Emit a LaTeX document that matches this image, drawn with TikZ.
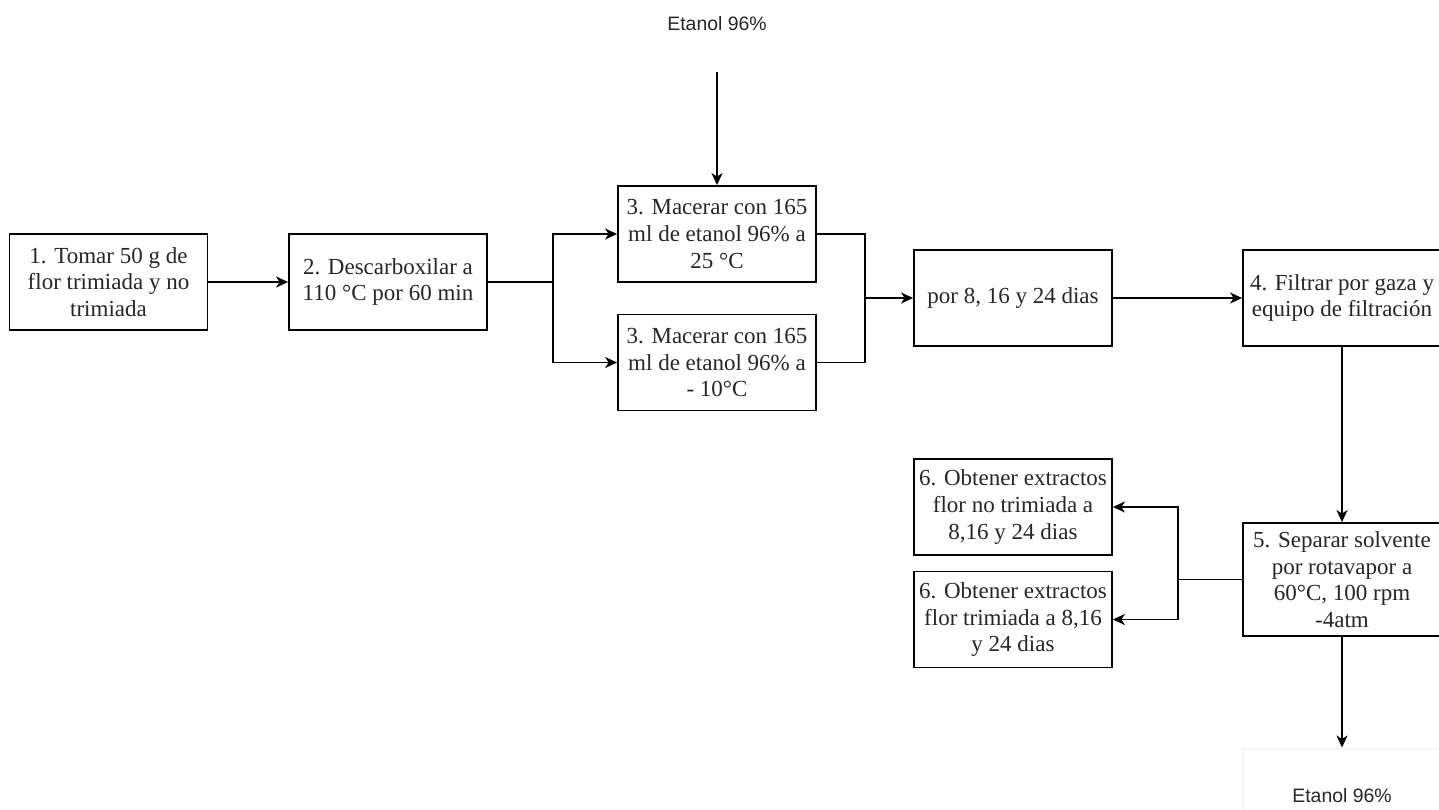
\documentclass[tikz,border=0pt]{standalone}
\usepackage{fontspec}
\setmainfont{Liberation Serif}
\newfontfamily\arialfont{Liberation Sans}
\usetikzlibrary{arrows.meta}
\begin{document}
\begin{tikzpicture}[x=1pt,y=-1pt,
  box/.style={draw, line width=1.8pt, minimum width=198pt, minimum height=96pt, inner sep=0pt,
    align=center, text=black!85, font=\fontsize{23}{26.6}\selectfont},
  lbl/.style={minimum width=198pt, minimum height=96pt, inner sep=0pt, align=center,
    text=black!85, font=\arialfont\fontsize{19.4}{22}\selectfont},
  ln/.style={line width=1.8pt},
  arr/.style={ln, -{Stealth[length=12pt,width=11pt,inset=3.5pt]}}]
\useasboundingbox (0,0) rectangle (1439,810);
\node[box] (b1) at (108.5,282) {1. Tomar 50 g de\\flor trimiada y no\\trimiada};
\node[box] (b2) at (388,282) {2. Descarboxilar a\\110 °C por 60 min};
\node[box] (b3a) at (717,234) {3. Macerar con 165\\ml de etanol 96\% a\\25 °C};
\node[box] (b3b) at (717,362.5) {3. Macerar con 165\\ml de etanol 96\% a\\- 10°C};
\node[box] (por) at (1013,298) {por 8, 16 y 24 dias};
\node[box] (b4) at (1342,298) {4. Filtrar por gaza y\\equipo de filtración};
\node[box, minimum height=113pt] (b5) at (1342,579.5) {5. Separar solvente\\por rotavapor a\\60°C, 100 rpm\\-4atm};
\node[box] (b6a) at (1013,507) {6. Obtener extractos\\flor no trimiada a\\8,16 y 24 dias};
\node[box] (b6b) at (1013,619.5) {6. Obtener extractos\\flor trimiada a 8,16\\y 24 dias};
\node[lbl] (top) at (717,24) {Etanol 96\%};
\node[lbl, draw=black!6, line width=1pt] (bot) at (1342,796) {Etanol 96\%};
\coordinate (split) at (553,282);
\coordinate (merge) at (865,298);
\coordinate (split2) at (1178,579.5);
\draw[arr] (b1) -- (b2);
\draw[ln] (b2.east) -- (split);
\draw[arr] (split) |- (b3a.west);
\draw[arr] (split) |- (b3b.west);
\draw[ln] (b3a.east) -| (merge);
\draw[ln] (b3b.east) -| (merge);
\draw[arr] (merge) -- (por.west);
\draw[arr] (por) -- (b4);
\draw[arr] (top) -- (b3a);
\draw[arr] (b4) -- (b5);
\draw[ln] (b5.west) -- (split2);
\draw[arr] (split2) |- (b6a.east);
\draw[arr] (split2) |- (b6b.east);
\draw[arr] (b5) -- (bot);
\end{tikzpicture}
\end{document}
